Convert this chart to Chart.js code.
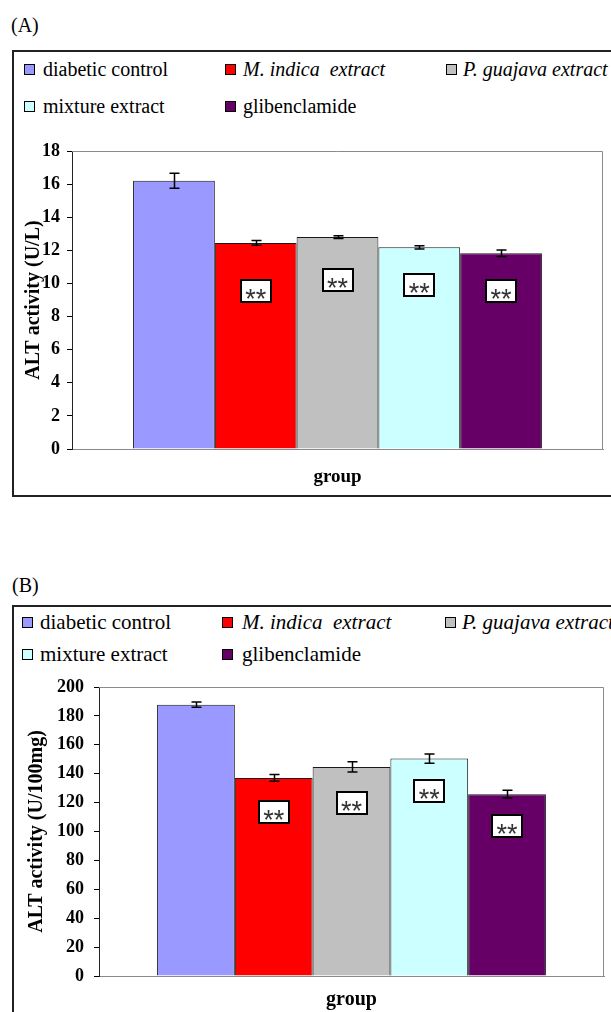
<!DOCTYPE html>
<html><head><meta charset="utf-8">
<script src="https://cdn.jsdelivr.net/npm/chart.js@4.4.1/dist/chart.umd.min.js"></script>
<style>
html,body{margin:0;padding:0;background:#fff;width:611px;height:1012px;overflow:hidden;position:relative;font-family:"Liberation Serif","Times New Roman",serif;color:#000;}
.box{position:absolute;border:2px solid #222;box-sizing:border-box;}
.panel{position:absolute;font-family:"Liberation Serif","Times New Roman",serif;font-size:20px;line-height:24px;}
.sq{position:absolute;width:9px;height:9px;border:1px solid #000;}
.txt{position:absolute;white-space:pre;line-height:24px;font-family:"Liberation Serif","Times New Roman",serif;}
canvas{position:absolute;left:0;}
</style></head>
<body>
<div class="box" style="left:12px;top:50px;width:700px;height:447px;"></div>
<div class="box" style="left:12px;top:605px;width:700px;height:500px;"></div>
<div class="panel" style="left:11px;top:13px;">(A)</div>
<div class="panel" style="left:12px;top:573px;">(B)</div>
<div id="legA"></div>
<div id="legB"></div>
<canvas id="chartA" width="611" height="500" style="top:0px;"></canvas>
<canvas id="chartB" width="611" height="452" style="top:560px;"></canvas>
<script>
// ---- data ----
const categories = ['group'];
const seriesNames = ['diabetic control', 'M. indica  extract', 'P. guajava extract', 'mixture extract', 'glibenclamide'];
const seriesItalic = [false, true, true, false, false];
const seriesColors = ['#9999FF', '#FF0000', '#C0C0C0', '#CCFFFF', '#660066'];

const serumMeans = [16.2, 12.45, 12.8, 12.18, 11.82];
const serumErr = [0.45, 0.15, 0.08, 0.1, 0.2];
const serumSig = ['', '**', '**', '**', '**'];
const serumSigAt = [null, 9.57, 10.2, 9.88, 9.57];
const serumTicks = [0, 18, 2];
const serumYTitle = 'ALT activity (U/L)';

const liverMeans = [187.8, 137.1, 144.7, 150.5, 125.8];
const liverErr = [1.9, 2.3, 3.5, 3.2, 2.7];
const liverSig = ['', '**', '**', '**', '**'];
const liverSigAt = [null, 113.4, 119.4, 128.2, 104];
const liverTicks = [0, 200, 20];
const liverYTitle = 'ALT activity (U/100mg)';
const xTitle = 'group';

// ---- layout ----
const FONT = '"Liberation Serif","Times New Roman",serif';
const layoutA = {padTop:151, padRight:8, xH:51, yW:72, tickPad:7, yTitlePad:22, xTitlePad:12, tickSize:18, yTitleSize:20, xTitleSize:19};
const layoutB = {padTop:127, padRight:7, xH:36, yW:99, tickPad:10, yTitlePad:25, xTitlePad:0, tickSize:18, yTitleSize:20, xTitleSize:20};
const legLayoutA = {rows:[69,106], sqX:[24,225,446], txX:[43,243,463], size:20};
const legLayoutB = {rows:[622,654], sqX:[22,222,445], txX:[40,242,462], size:21};

function buildLegend(el, L) {
  seriesNames.forEach((n, i) => {
    const r = i < 3 ? 0 : 1, c = i < 3 ? i : i - 3;
    const cy = L.rows[r];
    const sq = document.createElement('div');
    sq.className = 'sq';
    sq.style.left = L.sqX[c] + 'px';
    sq.style.top = (cy - 5) + 'px';
    sq.style.background = seriesColors[i];
    el.appendChild(sq);
    const t = document.createElement('div');
    t.className = 'txt';
    t.textContent = n;
    t.style.left = L.txX[c] + 'px';
    t.style.top = (cy - 12) + 'px';
    t.style.fontSize = L.size + 'px';
    t.style.fontFamily = FONT;
    if (seriesItalic[i]) t.style.fontStyle = 'italic';
    el.appendChild(t);
  });
}
buildLegend(document.getElementById('legA'), legLayoutA);
buildLegend(document.getElementById('legB'), legLayoutB);

const decor = {
  id: 'decor',
  beforeDatasetsDraw(chart) {
    const {ctx, chartArea: a} = chart;
    ctx.save();
    ctx.strokeStyle = '#8a8a8a';
    ctx.lineWidth = 1;
    ctx.beginPath();
    ctx.moveTo(a.left, a.top + 0.5);
    ctx.lineTo(a.right - 0.5, a.top + 0.5);
    ctx.lineTo(a.right - 0.5, a.bottom);
    ctx.stroke();
    ctx.restore();
  },
  afterDatasetsDraw(chart, args, o) {
    const ctx = chart.ctx, ys = chart.scales.y;
    ctx.save();
    chart.data.datasets.forEach((ds, i) => {
      const bar = chart.getDatasetMeta(i).data[0];
      const v = ds.data[0], e = o.err[i];
      const x = Math.round(bar.x) + 0.5;
      const yt = ys.getPixelForValue(v + e), yb = ys.getPixelForValue(v - e);
      ctx.strokeStyle = '#000';
      ctx.lineWidth = 1.5;
      ctx.beginPath();
      ctx.moveTo(x, yt); ctx.lineTo(x, yb);
      ctx.moveTo(x - 5, yt); ctx.lineTo(x + 5, yt);
      ctx.moveTo(x - 5, yb); ctx.lineTo(x + 5, yb);
      ctx.stroke();
      if (o.sig[i]) {
        const cy = ys.getPixelForValue(o.sigAt[i]);
        const w = 30, h = 22;
        const bx = Math.round(bar.x - w / 2), by = Math.round(cy - h / 2);
        ctx.fillStyle = '#fff';
        ctx.fillRect(bx, by, w, h);
        ctx.lineWidth = 2;
        ctx.strokeStyle = '#000';
        ctx.strokeRect(bx, by, w, h);
        ctx.fillStyle = '#333';
        ctx.font = '27px "Liberation Sans", Arial, sans-serif';
        ctx.textAlign = 'center';
        ctx.textBaseline = 'alphabetic';
        const m = ctx.measureText(o.sig[i]);
        const target = cy + 3;
        ctx.fillText(o.sig[i], bar.x, target - (m.actualBoundingBoxDescent - m.actualBoundingBoxAscent) / 2);
      }
    });
    ctx.restore();
  }
};

function makeChart(id, means, err, sig, sigAt, ticks, yTitle, L) {
  return new Chart(document.getElementById(id), {
    type: 'bar',
    data: {
      labels: categories,
      datasets: seriesNames.map((n, i) => ({
        label: n,
        data: [means[i]],
        backgroundColor: seriesColors[i],
        borderColor: '#1a1a1a',
        borderWidth: 1,
        barPercentage: 1,
        categoryPercentage: 0.77
      }))
    },
    options: {
      responsive: false,
      devicePixelRatio: 1,
      animation: false,
      layout: {padding: {left: 0, right: L.padRight, top: L.padTop, bottom: 0}},
      plugins: {
        legend: {display: false},
        tooltip: {enabled: false},
        decor: {err: err, sig: sig, sigAt: sigAt}
      },
      scales: {
        x: {
          ticks: {display: false},
          grid: {display: false, drawTicks: false},
          border: {display: true, color: '#8a8a8a', width: 1},
          title: {display: true, text: xTitle, color: '#000',
            font: {family: FONT, size: L.xTitleSize, weight: 'bold'},
            padding: {top: 0, bottom: L.xTitlePad}},
          afterFit: s => { s.height = L.xH; }
        },
        y: {
          min: ticks[0], max: ticks[1],
          ticks: {stepSize: ticks[2], color: '#000', padding: L.tickPad,
            font: {family: FONT, size: L.tickSize, weight: 'bold'}},
          grid: {drawOnChartArea: false, drawTicks: true, tickLength: 5, color: '#000'},
          border: {display: true, color: '#222', width: 1},
          title: {display: true, text: yTitle, color: '#000',
            font: {family: FONT, size: L.yTitleSize, weight: 'bold'},
            padding: {top: L.yTitlePad, bottom: 0}},
          afterFit: s => { s.width = L.yW; }
        }
      }
    },
    plugins: [decor]
  });
}

makeChart('chartA', serumMeans, serumErr, serumSig, serumSigAt, serumTicks, serumYTitle, layoutA);
makeChart('chartB', liverMeans, liverErr, liverSig, liverSigAt, liverTicks, liverYTitle, layoutB);
</script>
</body></html>
